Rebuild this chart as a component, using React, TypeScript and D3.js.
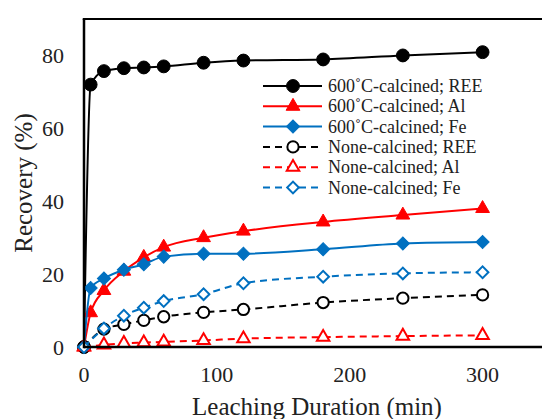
import React, { useRef, useEffect } from "react";
import * as d3 from "d3";

// leaching time (min)
const timeCalcined = [0, 5, 15, 30, 45, 60, 90, 120, 180, 240, 300];
const timeNone = [0, 15, 30, 45, 60, 90, 120, 180, 240, 300];

// recovery (%)
const calcinedREE = [0, 72, 75.7, 76.5, 76.7, 77, 78, 78.6, 78.9, 80, 80.9];
const calcinedAl = [0, 9.4, 15.5, 20.8, 24.6, 27.4, 30, 31.8, 34.3, 36.2, 38];
const calcinedFe = [0, 16.2, 18.8, 21.2, 22.7, 24.8, 25.6, 25.6, 26.8, 28.4, 28.8];
const noneREE = [0, 4.9, 6.2, 7.3, 8.3, 9.5, 10.3, 12.2, 13.4, 14.3];
const noneAl = [0, 0.6, 1.0, 1.2, 1.4, 1.8, 2.3, 2.7, 3.0, 3.2];
const noneFe = [0, 5.1, 8.6, 10.8, 12.6, 14.5, 17.5, 19.3, 20.2, 20.5];

const yTicks = [0, 20, 40, 60, 80];
const xTicks = [0, 100, 200, 300];

const series = [
  { name: "600˚C-calcined; REE", t: timeCalcined, v: calcinedREE, color: "#000000", shape: "circle", open: false },
  { name: "600˚C-calcined; Al", t: timeCalcined, v: calcinedAl, color: "#ff0000", shape: "triangle", open: false },
  { name: "600˚C-calcined; Fe", t: timeCalcined, v: calcinedFe, color: "#0070c0", shape: "diamond", open: false },
  { name: "None-calcined; REE", t: timeNone, v: noneREE, color: "#000000", shape: "circle", open: true },
  { name: "None-calcined; Al", t: timeNone, v: noneAl, color: "#ff0000", shape: "triangle", open: true },
  { name: "None-calcined; Fe", t: timeNone, v: noneFe, color: "#0070c0", shape: "diamond", open: true },
];

const W = 542,
  H = 419;
const margin = { top: 19, left: 84, bottom: 72 };
const font = "'Liberation Serif', 'Times New Roman', serif";

const symbolPath = (shape: string, open: boolean) => {
  if (shape === "circle") return d3.symbol(d3.symbolCircle, open ? 100 : 130)();
  if (shape === "triangle") return d3.symbol(d3.symbolTriangle, open ? 68 : 82)();
  return d3.symbol(d3.symbolSquare, open ? 68 : 86)();
};

const App = () => {
  const ref = useRef<SVGSVGElement | null>(null);

  useEffect(() => {
    const svg = d3.select(ref.current);
    svg.selectAll("*").remove();

    const x = d3.scaleLinear().domain([0, 350]).range([margin.left, 549]);
    const y = d3.scaleLinear().domain([0, 90]).range([H - margin.bottom, margin.top]);

    // series
    series.forEach((s) => {
      const pts = s.t.map((t, i) => [t, s.v[i]] as [number, number]);
      const line = d3
        .line<[number, number]>()
        .x((d) => x(d[0]))
        .y((d) => y(d[1]))
        .curve(d3.curveMonotoneX);
      svg
        .append("path")
        .datum(pts)
        .attr("fill", "none")
        .attr("stroke", s.color)
        .attr("stroke-width", 2)
        .attr("stroke-dasharray", s.open ? "7,5" : null)
        .attr("d", line);
      svg
        .append("g")
        .selectAll("path")
        .data(pts)
        .join("path")
        .attr("d", symbolPath(s.shape, s.open))
        .attr(
          "transform",
          (d) => `translate(${x(d[0])},${y(d[1])})${s.shape === "diamond" ? " rotate(45)" : ""}`
        )
        .attr("fill", s.open ? "#ffffff" : s.color)
        .attr("stroke", s.color)
        .attr("stroke-width", s.open ? 2 : 1);
    });

    // axes frame
    svg
      .append("line")
      .attr("x1", x(0))
      .attr("x2", W)
      .attr("y1", y(0))
      .attr("y2", y(0))
      .attr("stroke", "#000")
      .attr("stroke-width", 2.5);
    svg
      .append("line")
      .attr("x1", x(0))
      .attr("x2", x(0))
      .attr("y1", y(0) + 1.25)
      .attr("y2", y(90))
      .attr("stroke", "#000")
      .attr("stroke-width", 2.5);
    svg
      .append("line")
      .attr("x1", x(0) - 1.25)
      .attr("x2", W)
      .attr("y1", y(90))
      .attr("y2", y(90))
      .attr("stroke", "#000")
      .attr("stroke-width", 2);

    // tick labels
    svg
      .append("g")
      .selectAll("text")
      .data(yTicks)
      .join("text")
      .attr("x", x(0) - 20)
      .attr("y", (d) => y(d) + 7.5)
      .attr("text-anchor", "end")
      .attr("font-family", font)
      .attr("font-size", 22)
      .attr("fill", "#222")
      .text((d) => d);
    svg
      .append("g")
      .selectAll("text")
      .data(xTicks)
      .join("text")
      .attr("x", (d) => x(d))
      .attr("y", 382)
      .attr("text-anchor", "middle")
      .attr("font-family", font)
      .attr("font-size", 22)
      .attr("fill", "#222")
      .text((d) => d);

    // axis titles
    svg
      .append("text")
      .attr("x", 317)
      .attr("y", 415)
      .attr("text-anchor", "middle")
      .attr("font-family", font)
      .attr("font-size", 25)
      .attr("fill", "#222")
      .text("Leaching Duration (min)");
    svg
      .append("text")
      .attr("transform", "translate(32,183) rotate(-90)")
      .attr("text-anchor", "middle")
      .attr("font-family", font)
      .attr("font-size", 25)
      .attr("fill", "#222")
      .text("Recovery (%)");

    // legend
    const lg = svg
      .append("g")
      .selectAll("g")
      .data(series)
      .join("g")
      .attr("transform", (d, i) => `translate(263,${86 + i * 20.3})`);
    lg.append("line")
      .attr("x1", 0)
      .attr("x2", 59)
      .attr("stroke", (d) => d.color)
      .attr("stroke-width", 2)
      .attr("stroke-dasharray", (d) => (d.open ? "7,5" : null));
    lg.append("path")
      .attr("d", (d) => symbolPath(d.shape, d.open))
      .attr("transform", (d) => `translate(30,0)${d.shape === "diamond" ? " rotate(45)" : ""}`)
      .attr("fill", (d) => (d.open ? "#fff" : d.color))
      .attr("stroke", (d) => d.color)
      .attr("stroke-width", (d) => (d.open ? 2 : 1));
    lg.append("text")
      .attr("x", 65)
      .attr("y", 6)
      .attr("font-family", font)
      .attr("font-size", 18)
      .attr("fill", "#222")
      .text((d) => d.name);
  }, []);

  return (
    <div style={{ position: "fixed", left: 0, top: 0, background: "#fff" }}>
      <svg ref={ref} width={W} height={H} style={{ display: "block" }}></svg>
    </div>
  );
};

export default App;
